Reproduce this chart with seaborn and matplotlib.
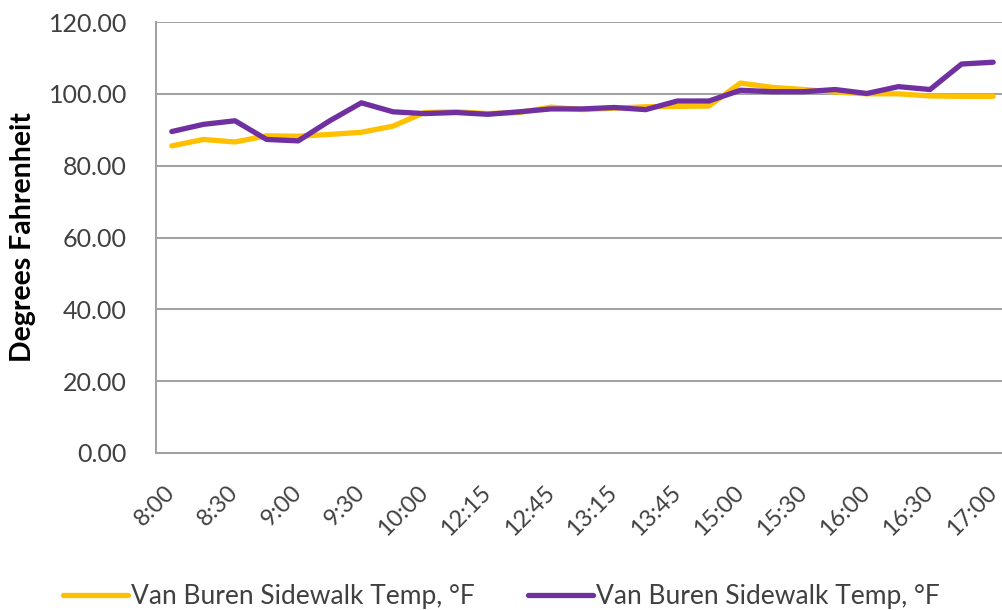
import matplotlib
matplotlib.use("Agg")
import matplotlib.pyplot as plt
from matplotlib.ticker import FormatStrFormatter
import seaborn as sns

# Sampling times (every 15 minutes, with a midday gap)
times = ["8:00", "8:15", "8:30", "8:45", "9:00", "9:15", "9:30", "9:45", "10:00",
         "12:00", "12:15", "12:30", "12:45", "13:00", "13:15", "13:30", "13:45",
         "14:45", "15:00", "15:15", "15:30", "15:45", "16:00", "16:15", "16:30",
         "16:45", "17:00"]

# Sidewalk surface temperatures, degrees Fahrenheit
temp_a = [85.5, 87.3, 86.6, 88.3, 88.2, 88.7, 89.3, 91.0, 94.8,
          95.0, 94.5, 94.8, 96.3, 95.6, 96.0, 96.4, 96.5,
          96.6, 103.0, 101.8, 101.2, 100.5, 100.0, 100.0, 99.4,
          99.3, 99.3]
temp_b = [89.5, 91.5, 92.5, 87.3, 86.9, 92.5, 97.5, 95.0, 94.5,
          94.8, 94.3, 95.0, 95.8, 95.8, 96.2, 95.6, 98.0,
          98.0, 101.0, 100.6, 100.6, 101.2, 100.1, 102.0, 101.2,
          108.3, 108.8]

series_label = "Van Buren Sidewalk Temp, °F"
y_ticks = [0, 20, 40, 60, 80, 100, 120]

sns.set_theme(style="white")
plt.rcParams["font.family"] = ["Lato", "DejaVu Sans"]

fig = plt.figure(figsize=(10.03, 6.10), dpi=100)
ax = fig.add_axes([156 / 1003, 1 - 453 / 610, 853 / 1003, (453 - 22) / 610])

sns.lineplot(x=times, y=temp_a, ax=ax, color="#FFC000", linewidth=3.8,
             label=series_label, sort=False)
sns.lineplot(x=times, y=temp_b, ax=ax, color="#7030A0", linewidth=3.8,
             label=series_label, sort=False)

ax.set_xlim(-0.5, len(times) - 0.5)
ax.set_ylim(0, 120)
ax.set_yticks(y_ticks)
ax.yaxis.set_major_formatter(FormatStrFormatter("%.2f"))
ax.set_xticks(range(0, len(times), 2))
ax.set_xticklabels(times[::2])

ax.grid(axis="y", color="#A0A0A0", linewidth=1.4)
ax.set_axisbelow(True)
for side in ("top", "right"):
    ax.spines[side].set_visible(False)
for side in ("left", "bottom"):
    ax.spines[side].set_color("#A0A0A0")
    ax.spines[side].set_linewidth(1.4)

ax.tick_params(axis="y", length=0, pad=21, labelsize=18, labelcolor="#404040")
ax.tick_params(axis="x", length=0, pad=26, labelsize=17, labelcolor="#404040")
for lbl in ax.get_xticklabels():
    lbl.set_rotation(45)
    lbl.set_ha("right")
    lbl.set_va("center")
    lbl.set_rotation_mode("anchor")

ax.set_xlabel("")
ax.set_ylabel("Degrees Fahrenheit", fontsize=20.5, fontweight="bold",
              color="black", labelpad=9)

leg = ax.legend(loc="upper left", bbox_to_anchor=(-0.121, -0.28),
                ncol=2, frameon=False, fontsize=19, handlelength=2.45,
                handletextpad=0.1, columnspacing=2.05, borderaxespad=0)
for t in leg.get_texts():
    t.set_color("#404040")

fig.savefig("out.png", dpi=100)
